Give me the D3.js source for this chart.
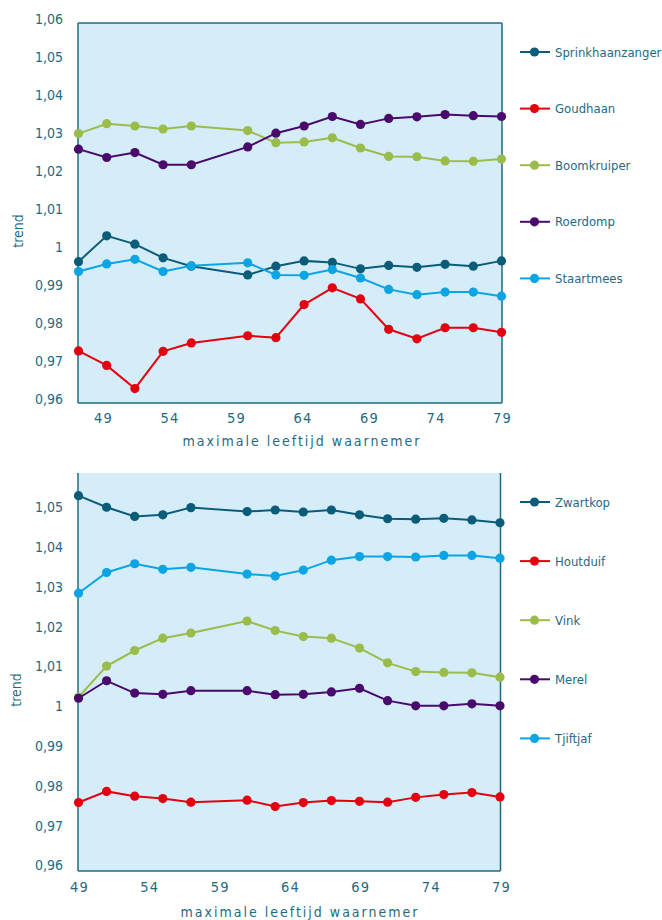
<!DOCTYPE html>
<html>
  <head>
    <script src="https://d3js.org/d3.v7.min.js"></script>
    <style>
      body {margin: 0; background: #fff;}
      svg text {font-family: "DejaVu Sans Condensed", "DejaVu Sans", sans-serif; font-stretch: condensed; fill: #1f6a82;}
      .series path {fill: none; stroke-width: 2px;}
    </style>
  </head>
  <body>
    <svg id="chart" width="662" height="920"></svg>
  </body>
  <script>
      // ages (maximale leeftijd waarnemer) at which the trend was computed
      let ages = [49, 51, 53, 55, 57, 61, 63, 65, 67, 69, 71, 73, 75, 77, 79];
      let xTicks = [49, 54, 59, 64, 69, 74, 79];
      let yTicksTop = [0.96, 0.97, 0.98, 0.99, 1, 1.01, 1.02, 1.03, 1.04, 1.05, 1.06];
      let yTicksBottom = [0.96, 0.97, 0.98, 0.99, 1, 1.01, 1.02, 1.03, 1.04, 1.05];

      // top panel
      let sprinkhaanzanger = [0.9972, 1.0040, 1.0018, 0.9982, 0.9960, 0.9937, 0.9960, 0.9974, 0.9970, 0.9953, 0.9962, 0.9957, 0.9965, 0.9960, 0.9974];
      let goudhaan = [0.9737, 0.9699, 0.9638, 0.9736, 0.9758, 0.9777, 0.9772, 0.9859, 0.9903, 0.9874, 0.9794, 0.9769, 0.9798, 0.9798, 0.9786];
      let boomkruiper = [1.0309, 1.0335, 1.0329, 1.0321, 1.0329, 1.0317, 1.0285, 1.0287, 1.0298, 1.0271, 1.0249, 1.0248, 1.0237, 1.0236, 1.0242];
      let roerdomp = [1.0268, 1.0246, 1.0259, 1.0227, 1.0227, 1.0274, 1.0310, 1.0329, 1.0354, 1.0333, 1.0349, 1.0353, 1.0359, 1.0356, 1.0354];
      let staartmees = [0.9946, 0.9966, 0.9978, 0.9946, 0.9961, 0.9969, 0.9937, 0.9936, 0.9951, 0.9929, 0.9899, 0.9885, 0.9892, 0.9892, 0.9881];

      // bottom panel
      let zwartkop = [1.0543, 1.0514, 1.0491, 1.0495, 1.0513, 1.0503, 1.0507, 1.0502, 1.0507, 1.0495, 1.0485, 1.0484, 1.0486, 1.0482, 1.0475];
      let houtduif = [0.9772, 0.9800, 0.9788, 0.9782, 0.9773, 0.9778, 0.9762, 0.9772, 0.9777, 0.9775, 0.9773, 0.9785, 0.9792, 0.9797, 0.9786];
      let vink = [1.0037, 1.0115, 1.0154, 1.0185, 1.0198, 1.0228, 1.0204, 1.0189, 1.0185, 1.0160, 1.0123, 1.0101, 1.0099, 1.0098, 1.0087];
      let merel = [1.0034, 1.0078, 1.0047, 1.0044, 1.0053, 1.0053, 1.0043, 1.0044, 1.0050, 1.0059, 1.0028, 1.0015, 1.0015, 1.0020, 1.0015];
      let tjiftjaf = [1.0298, 1.0350, 1.0372, 1.0358, 1.0363, 1.0346, 1.0341, 1.0356, 1.0381, 1.0390, 1.0390, 1.0389, 1.0393, 1.0393, 1.0386];

      let colors = ["#0a5c79", "#e3000f", "#9bbc4b", "#4a0a6b", "#0aa5e2"];
      let fmt = d3.formatLocale({decimal: ",", thousands: ".", grouping: [3], currency: ["", ""]}).format(".2~f");

      let panels = [
          {names: ["Sprinkhaanzanger", "Goudhaan", "Boomkruiper", "Roerdomp", "Staartmees"],
           values: [sprinkhaanzanger, goudhaan, boomkruiper, roerdomp, staartmees],
           yTicks: yTicksTop,
           box: {left: 78, right: 502, top: 23, bottom: 403}, topBorder: true,
           tickRange: [103, 502], labelShift: 4,
           legendY: 52, legendStep: 56.6, tickY: 423, titleY: 446, titleX: 302, trendX: 18},
          {names: ["Zwartkop", "Houtduif", "Vink", "Merel", "Tjiftjaf"],
           values: [zwartkop, houtduif, vink, merel, tjiftjaf],
           yTicks: yTicksBottom,
           box: {left: 78, right: 500.5, top: 473, bottom: 871}, topBorder: false,
           tickRange: [79, 501], labelShift: 6,
           legendY: 502, legendStep: 59.1, tickY: 892, titleY: 917, titleX: 300, trendX: 16}
      ];

      let svg = d3.select("#chart");

      function drawPanel(p) {
          let b = p.box;
          let x = d3.scaleLinear().domain([49, 79]).range([b.left + 0.5, b.right - 0.5]);
          let xTick = d3.scaleLinear().domain([49, 79]).range(p.tickRange);
          let y = d3.scaleLinear().domain([0.96, 1.06]).range([b.bottom, b.top]);
          let g = svg.append("g");

          g.append("rect").attr("x", b.left).attr("y", b.top)
              .attr("width", b.right - b.left).attr("height", b.bottom - b.top)
              .attr("fill", "#d5ecf9");

          let border = "#1d6c85";
          let edges = [[b.left, b.top, b.left, b.bottom], [b.right, b.top, b.right, b.bottom], [b.left, b.bottom, b.right, b.bottom]];
          if (p.topBorder) edges.push([b.left, b.top, b.right, b.top]);
          g.selectAll("line.edge").data(edges).enter().append("line").attr("class", "edge")
              .attr("x1", d => d[0]).attr("y1", d => d[1]).attr("x2", d => d[2]).attr("y2", d => d[3])
              .attr("stroke", border).attr("stroke-width", 1.5);

          // y axis
          let yAxis = d3.axisLeft(y).tickValues(p.yTicks).tickFormat(fmt).tickSize(0).tickPadding(15);
          let ya = g.append("g").attr("transform", `translate(${b.left},0)`).call(yAxis);
          ya.select(".domain").remove();
          ya.selectAll("text").attr("font-size", 14).attr("font-family", null).attr("fill", null)
              .attr("dy", "0.35em").attr("y", -p.labelShift);

          // x axis
          let xAxis = d3.axisBottom(xTick).tickValues(xTicks).tickFormat(d3.format("d")).tickSize(0).tickPadding(0);
          let xa = g.append("g").attr("transform", `translate(0,${p.tickY})`).call(xAxis);
          xa.select(".domain").remove();
          xa.selectAll("text").attr("font-size", 14.5).attr("font-family", null).attr("fill", null)
              .attr("dy", 0).attr("y", 0).style("letter-spacing", "1.2px");

          g.append("text").attr("x", p.titleX).attr("y", p.titleY)
              .attr("text-anchor", "middle").attr("font-size", 14).style("letter-spacing", "2px")
              .text("maximale leeftijd waarnemer");

          g.append("text").attr("transform", `translate(${p.trendX},${(b.top + b.bottom) / 2 + 18}) rotate(-90)`)
              .attr("text-anchor", "middle").attr("dy", "0.35em").attr("font-size", 14).text("trend");

          // series
          let line = d3.line().x((d, i) => x(ages[i])).y(d => y(d));
          p.values.forEach((vals, k) => {
              let s = g.append("g").attr("class", "series");
              s.append("path").datum(vals).attr("d", line).attr("stroke", colors[k]);
              s.selectAll("circle").data(vals).enter().append("circle")
                  .attr("cx", (d, i) => x(ages[i])).attr("cy", d => y(d)).attr("r", 4.6)
                  .attr("fill", colors[k]);
          });

          // legend
          let lg = g.selectAll("g.legend").data(p.names).enter().append("g").attr("class", "legend")
              .attr("transform", (d, i) => `translate(520,${p.legendY + i * p.legendStep})`);
          lg.append("line").attr("x1", 0).attr("x2", 30).attr("stroke", (d, i) => colors[i]).attr("stroke-width", 2);
          lg.append("circle").attr("cx", 14.5).attr("r", 4.6).attr("fill", (d, i) => colors[i]);
          lg.append("text").attr("x", 35).attr("dy", "0.36em").attr("font-size", 13).text(d => d);
      }

      panels.forEach(drawPanel);
  </script>
</html>
